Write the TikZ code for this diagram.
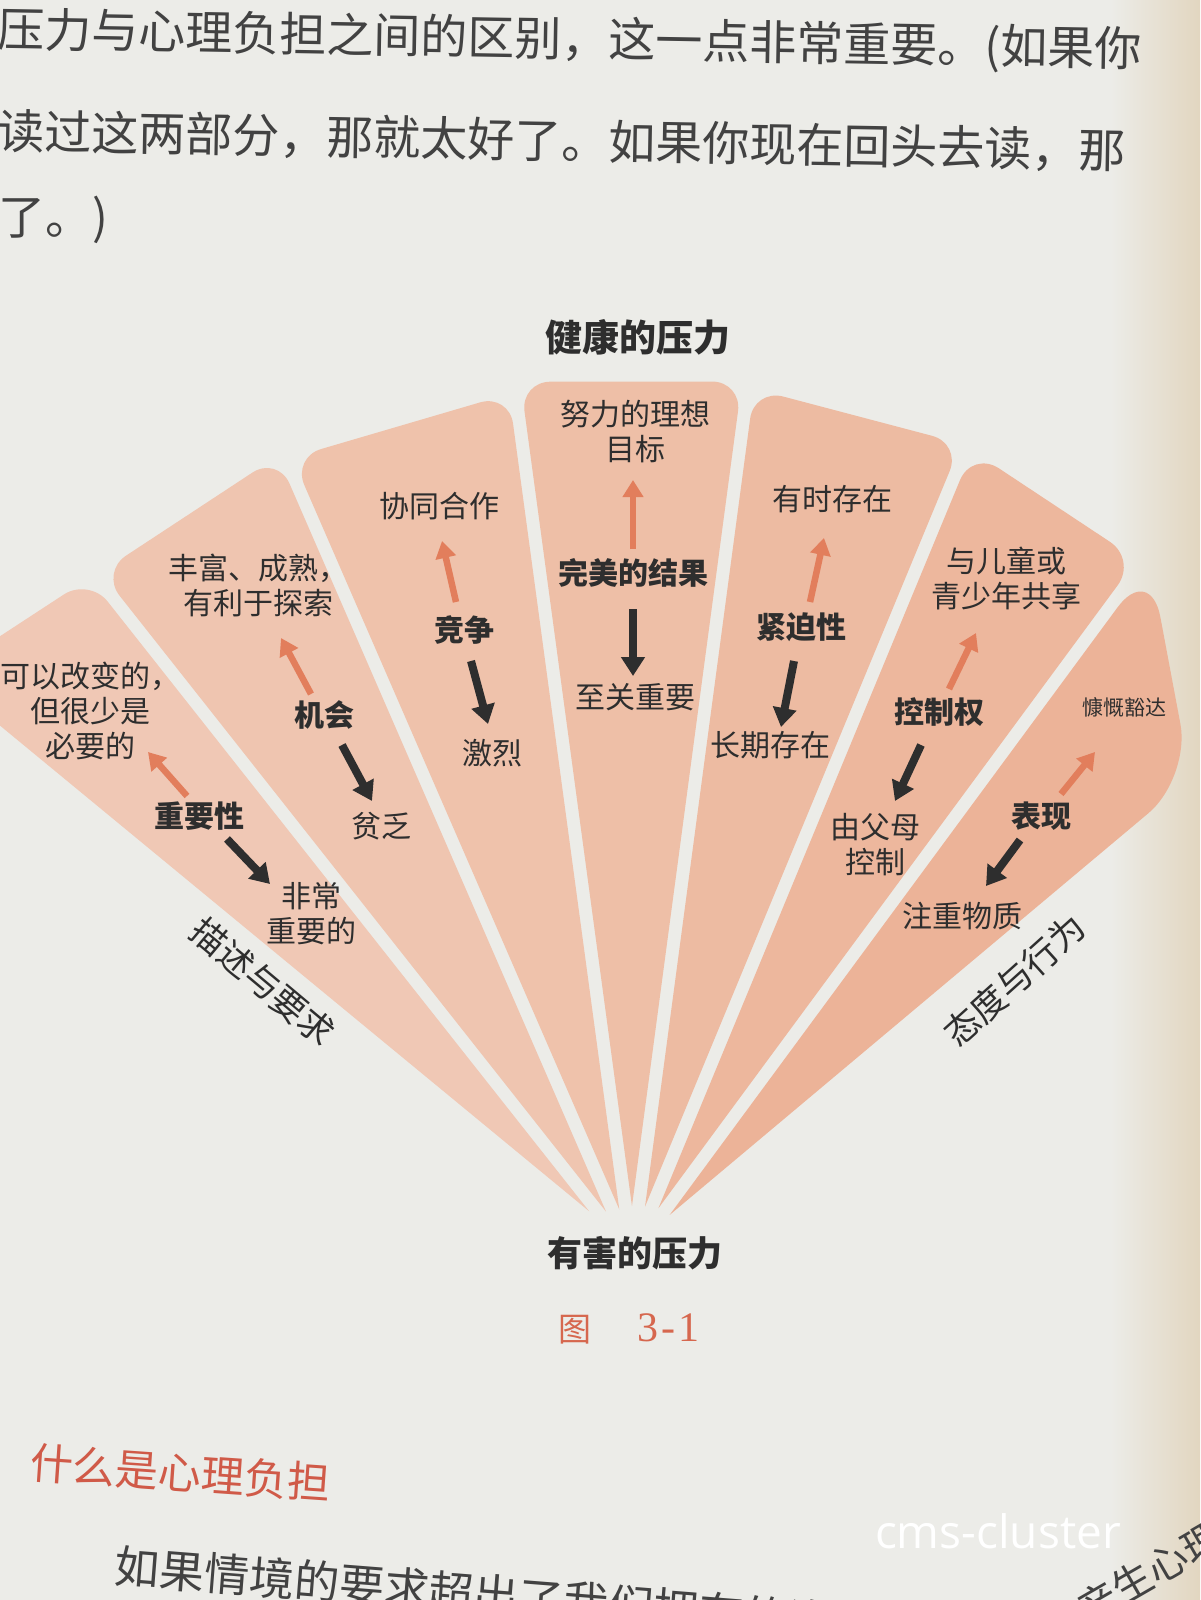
\documentclass[tikz,border=0pt]{standalone}
\usepackage{fontspec}
\setmainfont{Noto Sans CJK SC}
\newfontfamily\wmfont{Open Sans}
\newfontfamily\numfont{Liberation Serif}
\usetikzlibrary{arrows.meta,calc}
\definecolor{paper}{HTML}{ECECE8}
\definecolor{papertan}{HTML}{E2D6C0}
\definecolor{ink}{HTML}{2E2E2E}
\definecolor{bodyink}{HTML}{424242}
\definecolor{arrorange}{HTML}{E27E5C}
\definecolor{capred}{HTML}{D6674E}
\definecolor{headred}{HTML}{D05A48}
\definecolor{bA}{HTML}{F0C8B5}
\definecolor{bB}{HTML}{EFC5B0}
\definecolor{bC}{HTML}{EFC2AB}
\definecolor{bD}{HTML}{EEBFA7}
\definecolor{bE}{HTML}{EDBBA2}
\definecolor{bF}{HTML}{EDB79D}
\definecolor{bG}{HTML}{ECB398}
\begin{document}
\begin{tikzpicture}[x=1pt,y=-1pt,
  lab/.style={font=\fontsize{30}{35}\selectfont, text=ink, align=center, inner sep=0pt},
  keylab/.style={font=\bfseries\fontsize{30}{35}\selectfont, text=ink, align=center, inner sep=0pt},
  smalllab/.style={font=\fontsize{21}{25}\selectfont, text=ink, inner sep=0pt},
  titlelab/.style={font=\bfseries\fontsize{37}{42}\selectfont, text=ink, inner sep=0pt},
  body/.style={font=\fontsize{47}{56}\selectfont, text=bodyink, anchor=west, inner sep=0pt},
  sidelab/.style={font=\fontsize{35}{40}\selectfont, text=ink, inner sep=0pt},
  uparr/.style={draw=arrorange, line width=6.5pt, -{Triangle[width=20pt,length=17pt]}},
  downarr/.style={draw=ink, line width=8pt, -{Triangle[width=23pt,length=19pt]}},
]
\useasboundingbox (0,0) rectangle (1200,1600);
\clip (0,0) rectangle (1200,1600);
\fill[paper] (0,0) rectangle (1200,1600);
\shade[left color=paper, right color=papertan] (1110,0) rectangle (1200,1600);

% ---------- fan blades (boundary angles from vertical, gap 13) ----------
\coordinate (A) at (632,1255);
\foreach \i/\bl/\br/\sl/\sr/\rc/\col in {
  1/-50.5/-38.3/842/807/30/bA,
  2/-38.3/-23.5/815/824/30/bB,
  3/-23.5/-7.7/820/823/30/bC,
  4/-7.7/7.6/832/832/30/bD,
  5/7.6/22.5/825/826/30/bE,
  6/22.5/36.4/820/806/32/bF,
  7/36.4/50/810/680/55/bG}{
  \pgfmathsetmacro\ang{-90+(\bl+\br)/2}
  \pgfmathsetmacro\dd{6.5/sin((\br-\bl)/2)}
  \pgfmathsetmacro\angl{-90+\bl}
  \pgfmathsetmacro\angr{-90+\br}
  \coordinate (T\i) at ($(A)+(\ang:\dd)$);
  \coordinate (L\i) at ($(T\i)+(\angl:\sl)$);
  \coordinate (R\i) at ($(T\i)+(\angr:\sr)$);
  \fill[\col] ($(T\i)!0.5!(L\i)$) [rounded corners=\rc] -- (L\i) -- (R\i) -- ($(T\i)!0.5!(R\i)$) [sharp corners] -- (T\i) -- cycle;
}

% ---------- titles ----------
\node[titlelab] (healthy) at (638,337) {健康的压力};
\node[titlelab, font=\bfseries\fontsize{35}{40}\selectfont] (harmful) at (635,1253) {有害的压力};

% ---------- blade 1 ----------
\node[lab] (o1) at (90,711) {可以改变的，\\但很少是\\必要的};
\node[keylab] (k1) at (199,816) {重要性};
\node[lab] (i1) at (311,914) {非常\\重要的};
% ---------- blade 2 ----------
\node[lab] (o2) at (258,585) {丰富、成熟，\\有利于探索};
\node[keylab] (k2) at (324,715) {机会};
\node[lab] (i2) at (381,826) {贫乏};
% ---------- blade 3 ----------
\node[lab] (o3) at (439,506) {协同合作};
\node[keylab] (k3) at (464,630) {竞争};
\node[lab] (i3) at (492,753) {激烈};
% ---------- blade 4 ----------
\node[lab] (o4) at (635,431) {努力的理想\\目标};
\node[keylab] (k4) at (633,573) {完美的结果};
\node[lab] (i4) at (635,697) {至关重要};
% ---------- blade 5 ----------
\node[lab] (o5) at (832,499) {有时存在};
\node[keylab] (k5) at (801,627) {紧迫性};
\node[lab] (i5) at (770,745) {长期存在};
% ---------- blade 6 ----------
\node[lab] (o6) at (1006,578) {与儿童或\\青少年共享};
\node[keylab] (k6) at (939,712) {控制权};
\node[lab] (i6) at (875,845) {由父母\\控制};
% ---------- blade 7 ----------
\node[smalllab] (o7) at (1124,707) {慷慨豁达};
\node[keylab] (k7) at (1041,816) {表现};
\node[lab] (i7) at (962,916) {注重物质};

% ---------- arrows ----------
\coordinate (u1a) at (187,796); \coordinate (u1b) at (148,752);
\coordinate (d1a) at (227,839); \coordinate (d1b) at (270,884);
\coordinate (u2a) at (311,694); \coordinate (u2b) at (281,638);
\coordinate (d2a) at (342,745); \coordinate (d2b) at (372,801);
\coordinate (u3a) at (456,602); \coordinate (u3b) at (442,541);
\coordinate (d3a) at (471,661); \coordinate (d3b) at (488,724);
\coordinate (u4a) at (633,549); \coordinate (u4b) at (633,480);
\coordinate (d4a) at (633,609); \coordinate (d4b) at (633,676);
\coordinate (u5a) at (810,602); \coordinate (u5b) at (824,538);
\coordinate (d5a) at (794,661); \coordinate (d5b) at (781,727);
\coordinate (u6a) at (949,689); \coordinate (u6b) at (976,633);
\coordinate (d6a) at (921,745); \coordinate (d6b) at (895,801);
\coordinate (u7a) at (1061,794); \coordinate (u7b) at (1095,752);
\coordinate (d7a) at (1020,840); \coordinate (d7b) at (986,886);
\foreach \i in {1,...,7}{
  \draw[uparr] (u\i a) -- (u\i b);
  \draw[downarr] (d\i a) -- (d\i b);
}

% ---------- side labels ----------
\node[sidelab, rotate=-40] (descr) at (263,982) {描述与要求};
\node[sidelab, rotate=42] (attit) at (1015,980) {态度与行为};

% ---------- page text ----------
\node[body, rotate=-1] (line1) at (-2,31) {压力与心理负担之间的区别，这一点非常重要。(如果你};
\node[body, rotate=-1] (line2) at (-2,131) {读过这两部分，那就太好了。如果你现在回头去读，那};
\node[body] (line3) at (-2,220) {了。)};

\node[font=\fontsize{33}{40}\selectfont, text=capred, anchor=west, inner sep=0pt] (caption) at (558,1329) {图\hspace{46pt}{\numfont\fontsize{42}{46}\selectfont 3\kern3pt-\kern3pt1}};
\node[font=\fontsize{43}{50}\selectfont, text=headred, anchor=west, rotate=-4, inner sep=0pt] (heading) at (30,1462) {什么是心理负担};

\node[body, font=\fontsize{45}{54}\selectfont, rotate=-4.5] (line4) at (115,1566) {如果情境的要求超出了我们拥有的资源，我们就会};
\node[font=\fontsize{40}{48}\selectfont, text=bodyink, rotate=30, inner sep=0pt] (line4b) at (1150,1572) {产生心理};

\node[font=\wmfont\fontsize{46}{54}\selectfont, text=white, inner sep=0pt] (wm) at (998,1531) {cms-cluster};
\end{tikzpicture}
\end{document}
